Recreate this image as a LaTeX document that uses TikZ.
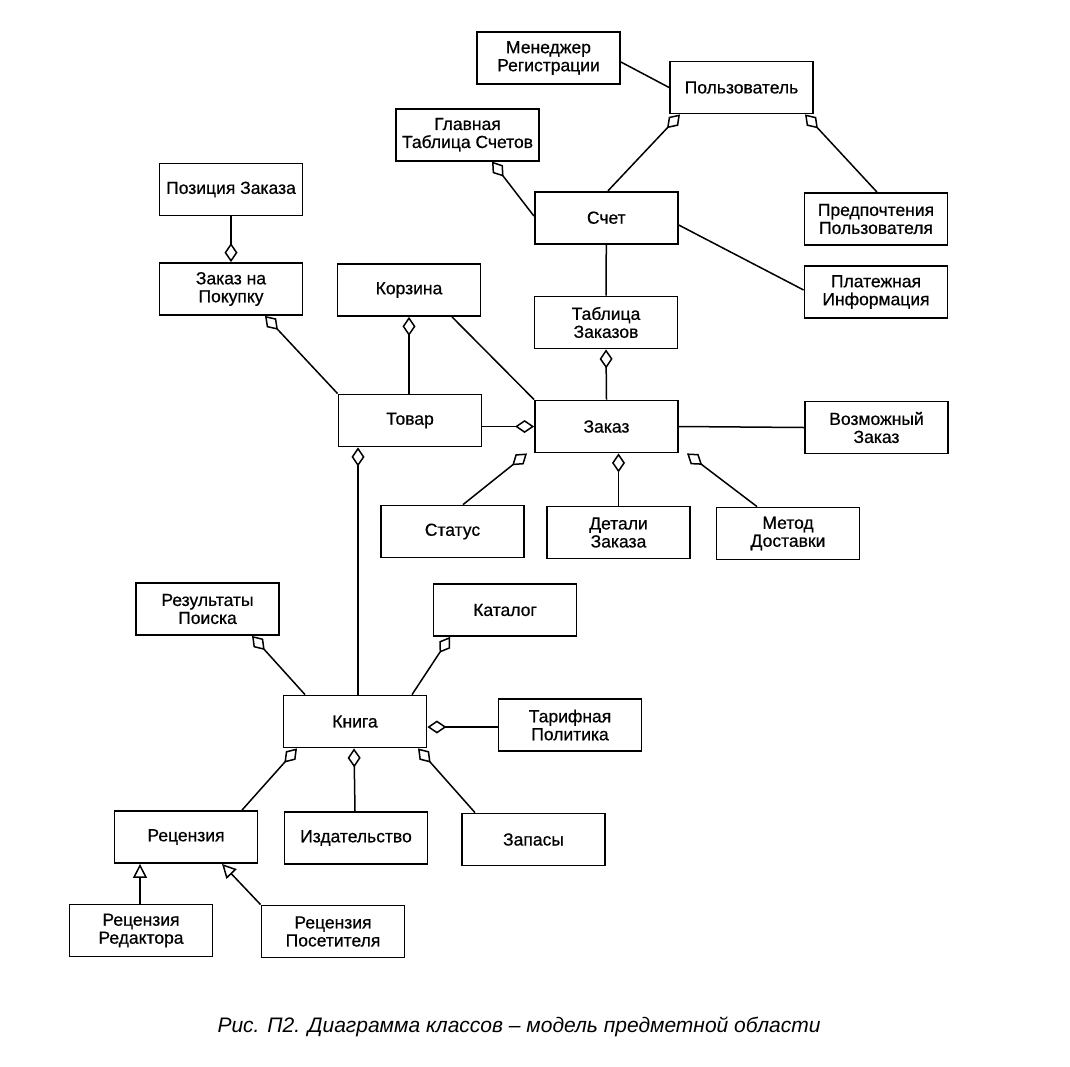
\documentclass[tikz,border=0pt]{standalone}
\usepackage{fontspec}
\setmainfont{Liberation Sans}
\newfontfamily\clsfont{Liberation Sans}[FakeBold=0.6]
\usepackage{tikz}
\usetikzlibrary{arrows.meta}

\begin{document}
\begin{tikzpicture}[
  x=1pt, y=-1pt,
  cls/.style={rectangle, draw, line width=1.8pt, minimum height=52pt, minimum width=143pt,
              inner sep=2pt, align=center, font=\clsfont\fontsize{17.5}{18}\selectfont},
  assoc/.style={line width=1.5pt},
  agg/.style={{Diamond[open, length=19pt, width=13pt]}-, line width=1.5pt},
  gen/.style={-{Triangle[open, length=14pt, width=14pt]}, line width=1.5pt},
]
  \useasboundingbox (0,0) rectangle (1070,1066);

  % Top: user and accounts
  \node[cls] (reg) at (548.5,58) {Менеджер\\Регистрации};
  \node[cls] (user) at (741.5,87.5) {Пользователь};
  \node[cls] (gltab) at (467.5,134.7) {Главная\\Таблица Счетов};
  \node[cls] (schet) at (606.3,217.7) {Счет};
  \node[cls] (pref) at (876,219) {Предпочтения\\Пользователя};
  \node[cls] (pay) at (876,292) {Платежная\\Информация};
  \node[cls] (ordtab) at (606,322.5) {Таблица\\Заказов};

  % Middle: orders
  \node[cls] (poszak) at (231,189.5) {Позиция Заказа};
  \node[cls] (zakpok) at (231,289) {Заказ на\\Покупку};
  \node[cls] (korz) at (409,290) {Корзина};
  \node[cls] (tovar) at (410,420.5) {Товар};
  \node[cls] (order) at (606.5,426.5) {Заказ};
  \node[cls] (vozm) at (876.5,427.5) {Возможный\\Заказ};
  \node[cls] (status) at (452.5,531.5) {Статус};
  \node[cls] (detail) at (618.5,532.5) {Детали\\Заказа};
  \node[cls] (metod) at (788,533.5) {Метод\\Доставки};

  % Bottom: books
  \node[cls] (result) at (207.5,609) {Результаты\\Поиска};
  \node[cls] (katalog) at (505,610) {Каталог};
  \node[cls] (kniga) at (355,721.5) {Книга};
  \node[cls] (tarif) at (570,725) {Тарифная\\Политика};
  \node[cls] (rec) at (186,837) {Рецензия};
  \node[cls] (izd) at (356,838) {Издательство};
  \node[cls] (zapas) at (533.5,839.5) {Запасы};
  \node[cls] (recred) at (141,930.5) {Рецензия\\Редактора};
  \node[cls] (recpos) at (333,931.5) {Рецензия\\Посетителя};

  % Caption
  \node[font=\fontsize{21}{24}\selectfont\itshape] (caption) at (519,1027)
    {Рис. П2. Диаграмма классов – модель предметной области};

  % Connectors: top
  \draw[assoc] ([yshift=-4]reg.east) -- (user.west);
  \draw[agg] ([xshift=-61.5]user.south) -- ([xshift=1.7]schet.north);
  \draw[agg] ([xshift=63.5]user.south) -- ([xshift=1]pref.north);
  \draw[agg] ([xshift=24.5]gltab.south) -- ([yshift=1.7]schet.west);
  \draw[assoc] ([yshift=-7.3]schet.east) -- ([yshift=2]pay.west);
  \draw[assoc] (schet.south) -- (ordtab.north);
  \draw[agg] (ordtab.south) -- (order.north);

  % Connectors: middle
  \draw[agg] (zakpok.north) -- (poszak.south);
  \draw[agg] ([xshift=34]zakpok.south) -- (tovar.north west);
  \draw[agg] (korz.south) -- (tovar.north -| korz.south);
  \draw[assoc] ([xshift=43]korz.south) -- (order.north west);
  \draw[agg] (order.west) -- (order.west -| tovar.east);
  \draw[assoc] (order.east) -- (vozm.west);
  \draw[agg] ([xshift=-79.5]order.south) -- ([xshift=10.5]status.north);
  \draw[agg] ([xshift=12]order.south) -- (detail.north);
  \draw[agg] ([xshift=80.5]order.south) -- ([xshift=-31]metod.north);

  % Connectors: bottom
  \draw[agg] ([xshift=-52]tovar.south) -- ([xshift=3]kniga.north);
  \draw[agg] ([xshift=44.5]result.south) -- ([xshift=-50]kniga.north);
  \draw[agg] ([xshift=-55]katalog.south) -- ([xshift=57]kniga.north);
  \draw[agg] ([yshift=-5.5]kniga.east) -- ([yshift=-2]tarif.west);
  \draw[agg] ([xshift=-58]kniga.south) -- ([xshift=56]rec.north);
  \draw[agg] ([xshift=-1]kniga.south) -- ([xshift=-1]izd.north);
  \draw[agg] ([xshift=63]kniga.south) -- ([xshift=-58.5]zapas.north);
  \draw[gen] ([xshift=-1]recred.north) -- ([xshift=-46]rec.south);
  \draw[gen] (recpos.north west) -- ([xshift=36]rec.south);
\end{tikzpicture}
\end{document}
